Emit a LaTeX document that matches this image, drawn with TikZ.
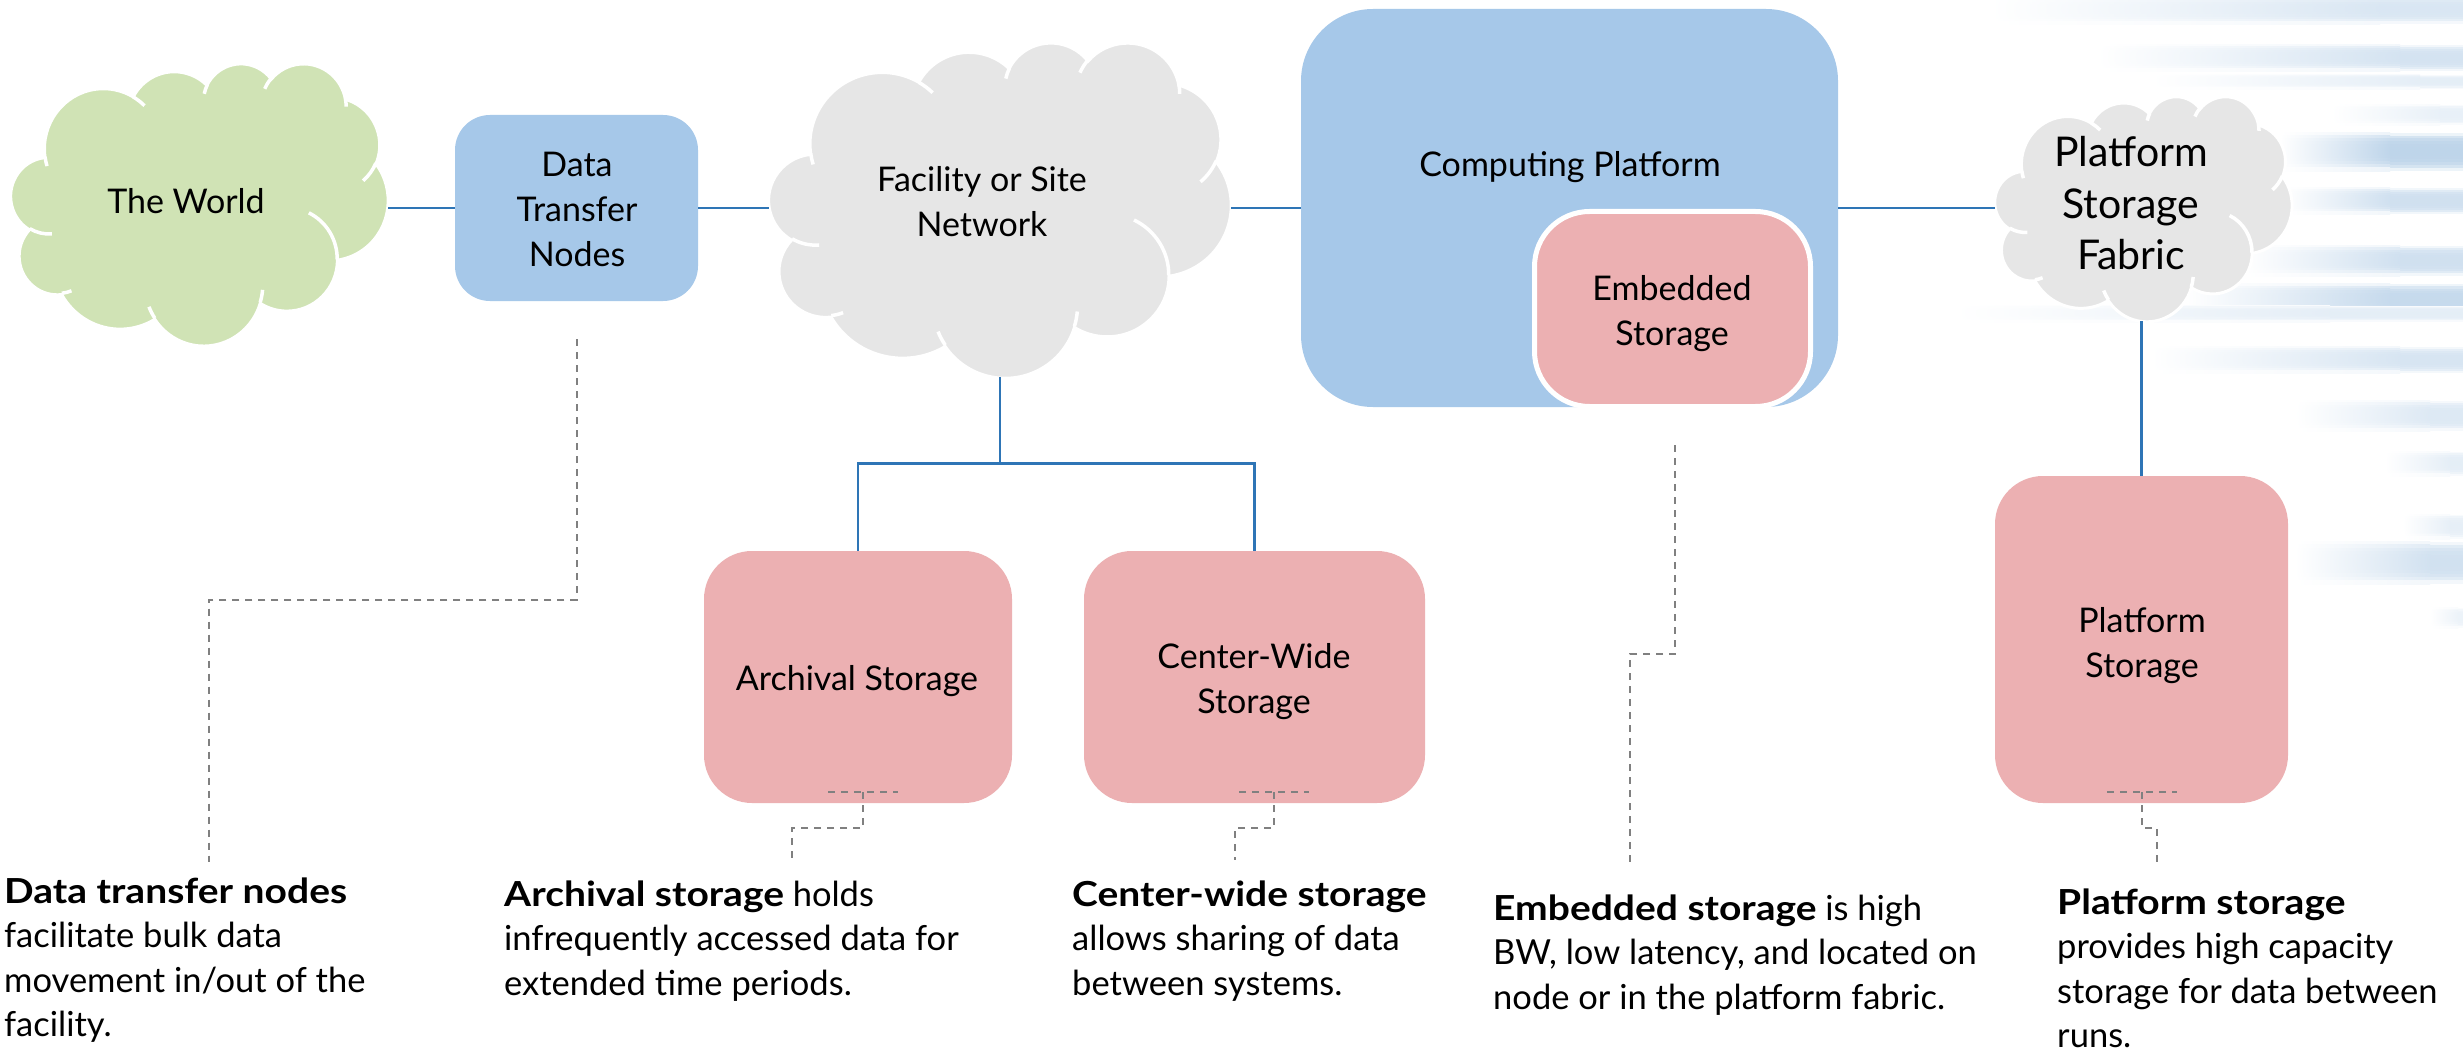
\documentclass[tikz,border=0pt]{standalone}
\usepackage{fontspec}
\setmainfont{Lato}[BoldFeatures={FakeStretch=1.13}]
\usetikzlibrary{calc}

\definecolor{worldgreen}{RGB}{208,227,181}
\definecolor{boxblue}{RGB}{166,200,233}
\definecolor{storepink}{RGB}{236,176,178}
\definecolor{cloudgrey}{RGB}{230,230,230}
\definecolor{linkblue}{RGB}{46,117,182}
\definecolor{leadergrey}{RGB}{128,128,128}
\definecolor{stripeblue}{RGB}{160,193,224}

% one elliptical arc of a cloud outline; the angles are seen from the centre
% of the ellipse and are turned into parameter angles here
\newcommand\cloudarc[4]{%
  \pgfmathsetmacro\cloudA{atan2((#1)*sin(#3),(#2)*cos(#3))}%
  \pgfmathsetmacro\cloudB{atan2((#1)*sin((#3)+(#4)),(#2)*cos((#3)+(#4)))}%
  \pgfmathsetmacro\cloudE{\cloudA+mod(\cloudB-\cloudA+720,360)}%
  \pgfpatharc{\cloudA}{\cloudE}{#1pt and #2pt}}

\newcommand\cloudfold[6]{%
  \pgfpathmoveto{\pgfpoint{#1pt}{#2pt}}\cloudarc{#3}{#4}{#5}{#6}}

% cloud on a 100 x 100 grid, placed by left, top, width, height
\newcommand\drawcloud[5]{%
  \begin{scope}[shift={(#1,#2)}, xscale=#3/100, yscale=#4/100]
    \pgfsetfillcolor{#5}\pgfsetstrokecolor{white}\pgfsetlinewidth{3pt}%
    \pgfpathmoveto{\pgfpoint{9.028pt}{33.264pt}}%
    \cloudarc{15.632}{21.273}{-190.487}{123.781}%
    \cloudarc{12.345}{16.822}{-144.102}{89.945}%
    \cloudarc{10.104}{13.762}{-145.808}{99.723}%
    \cloudarc{11.243}{15.266}{-130.986}{117.242}%
    \cloudarc{12.345}{16.836}{-78.709}{109.027}%
    \cloudarc{15.683}{21.343}{-46.267}{130.269}%
    \cloudarc{13.391}{18.211}{0.625}{114.033}%
    \cloudarc{15.630}{21.331}{22.452}{115.173}%
    \cloudarc{17.870}{24.405}{66.243}{75.711}%
    \cloudarc{10.093}{13.699}{-274.942}{146.736}%
    \cloudarc{10.058}{13.762}{-246.829}{152.519}%
    \pgfpathclose
    \pgfusepath{fill,stroke}%
    \pgfsetlinewidth{3.5pt}%
    \cloudfold{10.863}{60.595}{10.058}{13.762}{86.742}{26.430}%
    \cloudfold{16.037}{80.785}{10.093}{13.699}{73.610}{11.447}%
    \cloudfold{38.144}{90.486}{15.630}{21.331}{137.624}{14.081}%
    \cloudfold{66.729}{80.442}{15.630}{21.331}{6.453}{15.998}%
    \cloudfold{79.002}{53.134}{13.391}{18.211}{-70.292}{70.917}%
    \cloudfold{96.755}{35.542}{12.345}{16.836}{30.318}{27.752}%
    \cloudfold{88.713}{12.560}{11.243}{15.266}{-13.744}{14.859}%
    \cloudfold{67.310}{9.148}{11.243}{15.266}{-149.181}{18.195}%
    \cloudfold{51.252}{10.926}{10.104}{13.762}{-163.494}{17.686}%
    \cloudfold{32.407}{12.019}{15.632}{21.273}{-66.707}{12.319}%
    \cloudfold{9.553}{36.549}{15.632}{21.273}{157.654}{11.858}%
    \pgfusepath{stroke}%
  \end{scope}}

% a soft horizontal band built from thin slices that pale towards its edges:
% centre line, half height, fade start, fade end, strength
\newcommand\band[5]{%
  \foreach \k in {-6,...,6}{%
    \pgfmathsetmacro\bandS{(#5)*(1-(\k/6.5)^4)}%
    \pgfmathsetmacro\bandT{(#1)+(\k-0.5)*(#2)/6.5-0.4}%
    \pgfmathsetmacro\bandB{(#1)+(\k+0.5)*(#2)/6.5+0.4}%
    \shade[left color=white, right color=stripeblue!\bandS] (#3,\bandT) rectangle (#4,\bandB);
    \fill[stripeblue!\bandS] (#4,\bandT) rectangle (2463,\bandB);
  }}

\begin{document}
\begin{tikzpicture}[x=1pt, y=1pt, yscale=-1,
  link/.style={draw=linkblue, line width=2.6pt},
  leader/.style={draw=leadergrey, line width=2pt, dash pattern=on 7pt off 6pt},
  unit/.style={inner sep=0pt, rounded corners=#1},
  shapelabel/.style={inner sep=0pt, anchor=base, font=\fontsize{34}{45}\selectfont},
  notetext/.style={inner sep=0pt, anchor=base west, font=\fontsize{34.5}{44.5}\selectfont}]

\useasboundingbox (0,0) rectangle (2463,1051);
\fill[white] (0,0) rectangle (2463,1051);

% background bands on the right
\band{10}{14}{1990}{2380}{40}
\band{58}{13}{2097}{2400}{45}
\band{82}{7}{2151}{2420}{28}
\band{115}{10}{2331}{2440}{24}
\band{152}{19}{2280}{2390}{68}
\band{201}{13}{2284}{2390}{50}
\band{261}{15}{2245}{2400}{50}
\band{300}{16}{2187}{2390}{60}
\band{314}{8}{1954}{2330}{28}
\band{360}{13}{2151}{2400}{42}
\band{416}{15}{2295}{2430}{36}
\band{464}{12}{2385}{2450}{28}
\band{527}{12}{2403}{2450}{26}
\band{563}{21}{2295}{2430}{48}
\band{618}{10}{2430}{2458}{20}

% clouds
\drawcloud{11}{63}{377}{282}{worldgreen}
\drawcloud{769}{42}{462}{335}{cloudgrey}
\drawcloud{1995}{96}{297}{225}{cloudgrey}
\node[minimum width=377pt, minimum height=282pt, inner sep=0pt] (world) at (199.5,204) {};
\node[minimum width=462pt, minimum height=335pt, inner sep=0pt] (net) at (1000,209.5) {};
\node[minimum width=297pt, minimum height=225pt, inner sep=0pt] (fab) at (2143.5,208.5) {};

% boxes
\node[unit=35pt, fill=boxblue, minimum width=243pt, minimum height=186pt] (dtn) at (576.5,208) {};
\node[unit=72pt, fill=boxblue, minimum width=537pt, minimum height=398pt] (comp) at (1569.5,208) {};
\node[unit=55pt, fill=storepink, draw=white, line width=5pt, minimum width=276pt, minimum height=195pt] (emb) at (1672.5,309) {};
\node[unit=48pt, fill=storepink, minimum width=308pt, minimum height=252pt] (arch) at (858,677) {};
\node[unit=48pt, fill=storepink, minimum width=341pt, minimum height=252pt] (cw) at (1254.5,677) {};
\node[unit=48pt, fill=storepink, minimum width=293pt, minimum height=327pt] (ps) at (2141.5,639.5) {};

% labels inside the shapes
\node[shapelabel] (worldlabel) at (186,214) {The World};
\node[shapelabel] (dtnlabel) at (577,177) {\begin{tabular}[t]{@{}c@{}}Data\\Transfer\\Nodes\end{tabular}};
\node[shapelabel] (netlabel) at (982,192) {\begin{tabular}[t]{@{}c@{}}Facility or Site\\Network\end{tabular}};
\node[shapelabel] (complabel) at (1570,177) {Computing Platform};
\node[shapelabel] (emblabel) at (1672,300) {\begin{tabular}[t]{@{}c@{}}Embedded\\Storage\end{tabular}};
\node[shapelabel, font=\fontsize{41}{51.5}\selectfont] (fablabel) at (2131,167) {\begin{tabular}[t]{@{}c@{}}Platform\\Storage\\Fabric\end{tabular}};
\node[shapelabel] (archlabel) at (857,690) {Archival Storage};
\node[shapelabel] (cwlabel) at (1254,668) {\begin{tabular}[t]{@{}c@{}}Center-Wide\\Storage\end{tabular}};
\node[shapelabel] (pslabel) at (2142,632) {\begin{tabular}[t]{@{}c@{}}Platform\\Storage\end{tabular}};

% network links
\draw[link] (world.east |- dtn.west) -- (dtn.west);
\draw[link] (dtn.east) -- (net.west |- dtn.east);
\draw[link] (net.east |- comp.west) -- (comp.west);
\draw[link] (comp.east) -- (fab.west |- comp.east);
\draw[link] (net.south) -- ++(0,86) -| (arch.north);
\draw[link] (net.south) -- ++(0,86) -| (cw.north);
\draw[link] (fab.south -| ps.north) -- (ps.north);

% notes
\node[notetext] (dtnnote) at (4,903) {\begin{tabular}[t]{@{}l@{}}\textbf{Data transfer nodes}\\facilitate bulk data\\movement in/out of the\\facility.\end{tabular}};
\node[notetext] (archnote) at (504,906) {\begin{tabular}[t]{@{}l@{}}\textbf{Archival storage} holds\\infrequently accessed data for\\extended time periods.\end{tabular}};
\node[notetext] (cwnote) at (1072,906) {\begin{tabular}[t]{@{}l@{}}\textbf{Center-wide storage}\\allows sharing of data\\between systems.\end{tabular}};
\node[notetext] (embnote) at (1493,920) {\begin{tabular}[t]{@{}l@{}}\textbf{Embedded storage} is high\\BW, low latency, and located on\\node or in the platform fabric.\end{tabular}};
\node[notetext] (psnote) at (2057,914) {\begin{tabular}[t]{@{}l@{}}\textbf{Platform storage}\\provides high capacity\\storage for data between\\runs.\end{tabular}};

% leader lines from the shapes to their notes
\coordinate (dtnbend) at (209,600);
\coordinate (dtnend) at (209,862);
\draw[leader] (dtn.south) ++(0,38) -- (dtn.south |- dtnbend) -- (dtnbend) -- (dtnend);

\coordinate (archtap) at (863,792);
\coordinate (archend) at (792,863);
\draw[leader] ($(archtap)+(-35,0)$) -- ($(archtap)+(35,0)$);
\draw[leader] (archtap) -- ++(0,36) -| (archend);

\coordinate (cwtap) at (1274,792);
\coordinate (cwend) at (1235,860);
\draw[leader] ($(cwtap)+(-35,0)$) -- ($(cwtap)+(35,0)$);
\draw[leader] (cwtap) -- ++(0,36) -| (cwend);

\coordinate (embtap) at (1675,445);
\coordinate (embend) at (1630,863);
\draw[leader] (embtap) -- ++(0,209) -| (embend);

\coordinate (pstap) at (2142,792);
\coordinate (psend) at (2157,863);
\draw[leader] ($(pstap)+(-35,0)$) -- ($(pstap)+(35,0)$);
\draw[leader] (pstap) -- ++(0,36) -| (psend);
\end{tikzpicture}
\end{document}
